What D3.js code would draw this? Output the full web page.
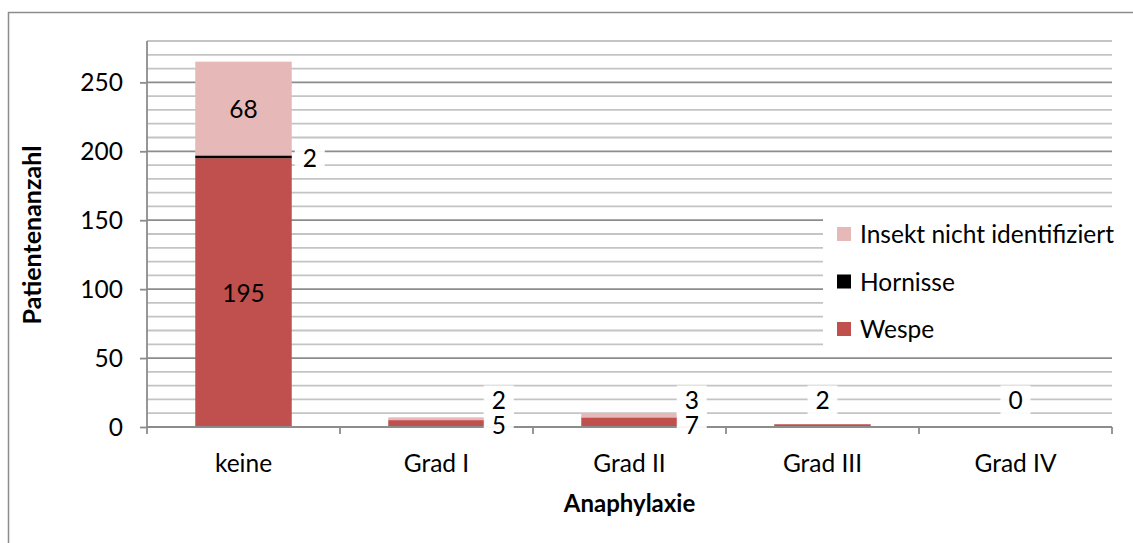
<!DOCTYPE html>
<html><head><meta charset="utf-8">
<script src="https://cdn.jsdelivr.net/npm/d3@7"></script>
<style>
body{margin:0;background:#fff;}
text{font-family:Lato,"Open Sans",sans-serif;}
</style></head>
<body><svg id="c" width="1133" height="543"></svg>
<script>
const categories = ["keine","Grad I","Grad II","Grad III","Grad IV"];
const wespe = [195,5,7,2,0];
const hornisse = [2,0,0,0,0];
const insekt = [68,2,3,0,0];
const seriesNames = ["Wespe","Hornisse","Insekt nicht identifiziert"];
const colors = ["#c0504d","#000000","#e6b9b8"];
const yTicks = [0,50,100,150,200,250];

const FS=24.5;
const svg = d3.select("#c");
const W=1133,H=543;
const m={l:147,t:41,r:1112,b:427};
const x=d3.scaleBand().domain(categories).range([m.l,m.r]).paddingInner(0.5).paddingOuter(0.25);
const y=d3.scaleLinear().domain([0,280]).range([m.b,m.t]);

// outer border
svg.append("path").attr("d",`M8.5,${H+5}V12.5H${W+5}`).attr("fill","none").attr("stroke","#8c8c8c").attr("stroke-width",1.5);

// gridlines
const minor=d3.range(10,281,10).filter(v=>v%50!==0);
svg.append("g").selectAll("line").data(minor).join("line")
 .attr("x1",m.l).attr("x2",m.r).attr("y1",d=>y(d)).attr("y2",d=>y(d))
 .attr("stroke","#c4c4c4").attr("stroke-width",1.8);
svg.append("g").selectAll("line").data(yTicks.filter(v=>v>0)).join("line")
 .attr("x1",m.l).attr("x2",m.r).attr("y1",d=>y(d)).attr("y2",d=>y(d))
 .attr("stroke","#8c8c8c").attr("stroke-width",1.8);

// stacked bars
const rows=categories.map((c,i)=>({cat:c,Wespe:wespe[i],Hornisse:hornisse[i],"Insekt nicht identifiziert":insekt[i]}));
const stack=d3.stack().keys(seriesNames)(rows);
stack.forEach((s,si)=>{
  svg.append("g").selectAll("rect").data(s).join("rect")
   .attr("x",d=>x(d.data.cat)).attr("width",x.bandwidth())
   .attr("y",d=>y(d[1])).attr("height",d=>Math.max(0,y(d[0])-y(d[1])))
   .attr("fill",colors[si]);
});

// axes
const yAxis=d3.axisLeft(y).tickValues(yTicks).tickSize(7).tickPadding(17);
const gy=svg.append("g").attr("transform",`translate(${m.l},0)`).call(yAxis);
gy.select(".domain").attr("d",`M0,${m.t}V${m.b}`).attr("stroke","#8c8c8c").attr("stroke-width",1.8);
gy.selectAll(".tick line").attr("stroke","#8c8c8c").attr("stroke-width",1.8);
gy.selectAll(".tick text").attr("font-size",FS).attr("fill","#000").attr("font-family","Lato").attr("dy","0.35em");

const gx=svg.append("g").attr("transform",`translate(0,${m.b})`);
gx.append("line").attr("x1",m.l).attr("x2",m.r).attr("stroke","#8c8c8c").attr("stroke-width",1.8);
const bounds=d3.range(categories.length+1).map(i=>m.l+i*(m.r-m.l)/categories.length);
gx.selectAll(".tk").data(bounds).join("line").attr("x1",d=>d).attr("x2",d=>d).attr("y1",0).attr("y2",7)
 .attr("stroke","#8c8c8c").attr("stroke-width",1.8);
gx.selectAll(".lb").data(categories).join("text")
 .attr("x",d=>x(d)+x.bandwidth()/2).attr("y",45).attr("text-anchor","middle")
 .attr("font-size",FS).text(d=>d);

// axis titles
svg.append("text").attr("transform",`translate(41,${(m.t+m.b)/2+1}) rotate(-90)`)
 .attr("text-anchor","middle").attr("font-size",25).attr("font-weight","bold").text("Patientenanzahl");
svg.append("text").attr("x",(m.l+m.r)/2).attr("y",512).attr("text-anchor","middle")
 .attr("font-size",24).attr("font-weight","bold").text("Anaphylaxie");

// data labels
function label(cx,cy,t,box){
  const g=svg.append("g");
  if(box){g.append("rect").attr("x",cx-15).attr("y",cy-15).attr("width",30).attr("height",30).attr("fill","#fff").attr("opacity",0.93);}
  g.append("text").attr("x",cx).attr("y",cy+9).attr("text-anchor","middle").attr("font-size",FS).text(t);
}
const bw=x.bandwidth();
const k=categories[0];
label(x(k)+bw/2,y(wespe[0]+hornisse[0]+insekt[0]/2),insekt[0],false);
label(x(k)+bw/2,y(wespe[0]/2),wespe[0],false);
label(x(k)+bw+18,y(wespe[0]+hornisse[0])+3,hornisse[0],true);
[1,2].forEach(i=>{
  const c=categories[i];
  label(x(c)+bw+14,y(20)+1,insekt[i],true);
  label(x(c)+bw+14,y(0)-2,wespe[i],true);
});
label(x(categories[3])+bw/2,y(20)+1,wespe[3],true);
label(x(categories[4])+bw/2,y(20)+1,wespe[4],true);

// legend
svg.append("rect").attr("x",823).attr("y",210).attr("width",300).attr("height",145).attr("fill","#fff");
const leg=[{n:"Insekt nicht identifiziert",c:colors[2]},{n:"Hornisse",c:colors[1]},{n:"Wespe",c:colors[0]}];
leg.forEach((d,i)=>{
  const cy=234+i*47.5;
  svg.append("rect").attr("x",837).attr("y",cy-7).attr("width",14).attr("height",14).attr("fill",d.c);
  svg.append("text").attr("x",860).attr("y",cy+9).attr("font-size",FS).text(d.n);
});
</script></body></html>
